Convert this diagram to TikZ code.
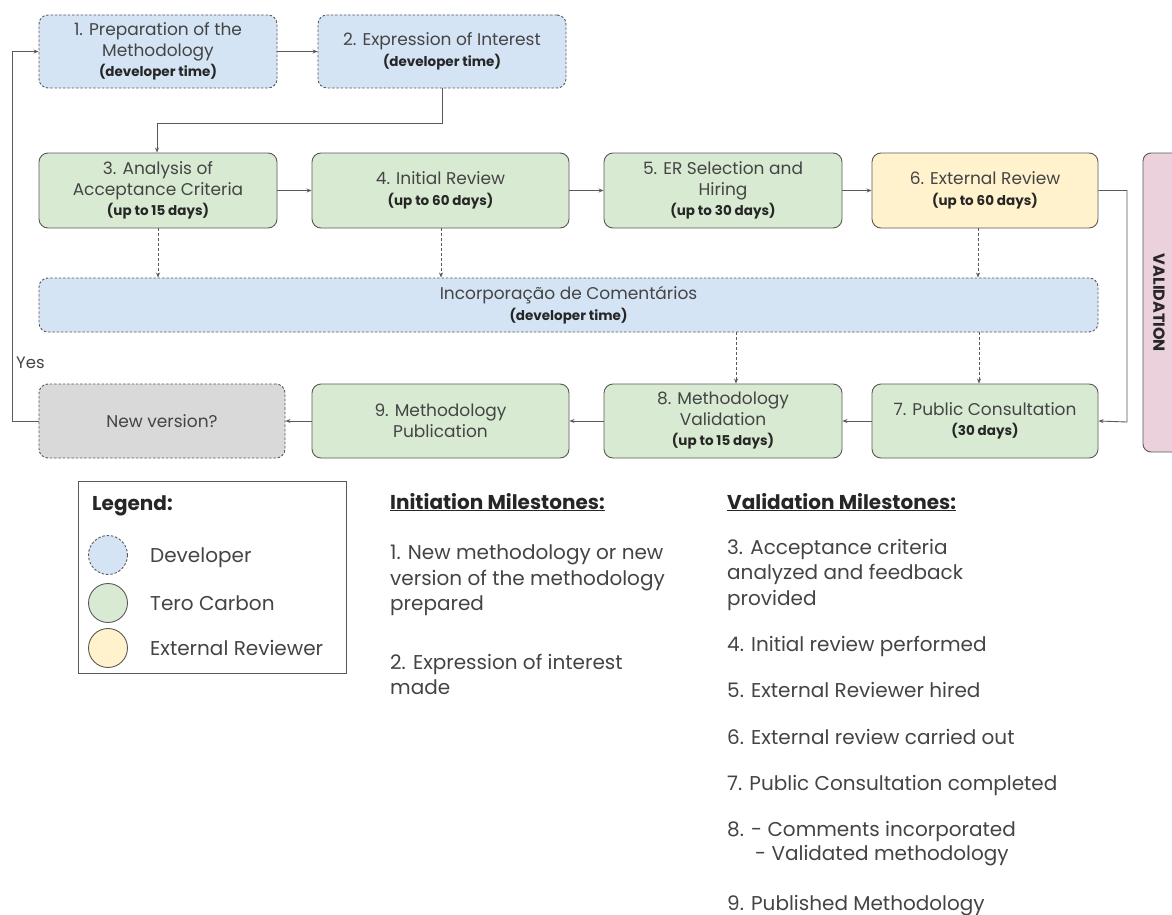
\documentclass[tikz,border=0pt]{standalone}
\usepackage{fontspec}
\setmainfont{Poppins}
\usetikzlibrary{arrows.meta,calc}
\definecolor{devblue}{HTML}{D4E4F5}
\definecolor{terogreen}{HTML}{D9EAD3}
\definecolor{extyellow}{HTML}{FFF2CC}
\definecolor{nvgray}{HTML}{D9D9D9}
\definecolor{valpink}{HTML}{EAD1DC}
\definecolor{linegray}{HTML}{5A5A5A}
\definecolor{textgray}{HTML}{444444}
\newcommand\subbold[1]{{\fontsize{13.5}{16}\selectfont\bfseries\color{black!85}#1}}
\tikzset{
  base/.style={rounded corners=9pt, align=center, inner sep=2pt, text=textgray,
    font=\fontsize{17}{20.5}\selectfont, line width=0.9pt},
  devbox/.style={base, draw=linegray, dash pattern=on 2.5pt off 1.8pt, fill=devblue},
  terobox/.style={base, draw=linegray, fill=terogreen},
  extbox/.style={base, draw=linegray, fill=extyellow},
  nvbox/.style={base, draw=linegray, dash pattern=on 2.5pt off 1.8pt, fill=nvgray},
  conn/.style={draw=linegray, line width=0.9pt, -{Stealth[length=5pt,width=4pt]}},
  dconn/.style={conn, dash pattern=on 3pt off 2pt},
  mtext/.style={anchor=base west, inner sep=0pt, text=textgray, font=\fontsize{20}{24}\selectfont},
  mhead/.style={anchor=base west, inner sep=0pt, text=black!85, font=\fontsize{20}{24}\selectfont\bfseries},
}
\begin{document}
\begin{tikzpicture}[x=1pt,y=-1pt]
\useasboundingbox[fill=white] (0,0) rectangle (1172,915);

% top row
\node[devbox, minimum width=238, minimum height=73] (b1) at (158,51.5)
  {1. Preparation of the\\Methodology\\\subbold{(developer time)}};
\node[devbox, minimum width=248, minimum height=73] (b2) at (442,51.5)
  {2. Expression of Interest\\\subbold{(developer time)}};

% second row
\node[terobox, minimum width=238, minimum height=75] (b3) at (158,190.5)
  {3. Analysis of\\Acceptance Criteria\\\subbold{(up to 15 days)}};
\node[terobox, minimum width=257, minimum height=75] (b4) at (440.5,190.5)
  {4. Initial Review\\\subbold{(up to 60 days)}};
\node[terobox, minimum width=238, minimum height=75] (b5) at (723,190.5)
  {5. ER Selection and\\Hiring\\\subbold{(up to 30 days)}};
\node[extbox, minimum width=226, minimum height=75] (b6) at (985,190.5)
  {6. External Review\\\subbold{(up to 60 days)}};

% incorporation
\node[devbox, minimum width=1059, minimum height=54] (inc) at (568.5,305)
  {Incorporação de Comentários\\\subbold{(developer time)}};

% bottom row
\node[nvbox, minimum width=246, minimum height=74] (nv) at (162,421)
  {New version?};
\node[terobox, minimum width=257, minimum height=74] (b9) at (440.5,421)
  {9. Methodology\\Publication};
\node[terobox, minimum width=238, minimum height=74] (b8) at (723,421)
  {8. Methodology\\Validation\\\subbold{(up to 15 days)}};
\node[terobox, minimum width=226, minimum height=74] (b7) at (985,421)
  {7. Public Consultation\\\subbold{(30 days)}};

% validation band
\begin{scope}
\clip (0,0) rectangle (1172,915);
\draw[draw=linegray, fill=valpink, rounded corners=8pt, line width=0.9pt] (1143,153) rectangle (1195,452);
\end{scope}
\node[rotate=-90, font=\fontsize{16}{18}\selectfont\bfseries, text=black!85] (val) at (1159,303) {VALIDATION};

% solid connectors
\draw[conn] (b1) -- (b2);
\draw[conn] (b2.south) -- (442,123) -- (157,123) -- (b3.north -| 157,0);
\draw[conn] (b3) -- (b4);
\draw[conn] (b4) -- (b5);
\draw[conn] (b5) -- (b6);
\draw[conn] (b6.east) -- (1127,190.5) -- (1127,422) -- (b7.east);
\draw[conn] (b7) -- (b8);
\draw[conn] (b8) -- (b9);
\draw[conn] (b9) -- (nv);
\draw[conn] (nv.west) -- (12,421) -- (12,51.5) -- (b1.west);
\node[anchor=base west, inner sep=0pt, text=textgray, font=\fontsize{16.5}{18}\selectfont] (yes) at (16,368) {Yes};

% dashed connectors
\draw[dconn] (b3.south -| 158,0) -- (inc.north -| 158,0);
\draw[dconn] (b4.south -| 441,0) -- (inc.north -| 441,0);
\draw[dconn] (b6.south -| 978,0) -- (inc.north -| 978,0);
\draw[dconn] (inc.south -| 736,0) -- (b8.north -| 736,0);
\draw[dconn] (inc.south -| 979,0) -- (b7.north -| 979,0);

% legend
\draw[draw=linegray, line width=1pt] (78,481) rectangle (346,673);
\node[anchor=base west, inner sep=0pt, font=\fontsize{20}{24}\selectfont\bfseries, text=black!85] (leg) at (92,510) {Legend:};
\draw[draw=linegray, dash pattern=on 2.5pt off 1.8pt, fill=devblue, line width=0.9pt] (108,555) circle (19.5);
\draw[draw=linegray, fill=terogreen, line width=0.9pt] (108,603) circle (19.5);
\draw[draw=linegray, fill=extyellow, line width=0.9pt] (108,648) circle (19.5);
\node[mtext] (l1) at (150,562) {Developer};
\node[mtext] (l2) at (150,610) {Tero Carbon};
\node[mtext] (l3) at (150,655) {External Reviewer};

% initiation milestones
\node[mhead] (ih) at (390,509) {\underline{Initiation Milestones:}};
\node[mtext] (i1) at (390,559) {1. New methodology or new};
\node[mtext] (i2) at (390,585) {version of the methodology};
\node[mtext] (i3) at (390,610) {prepared};
\node[mtext] (i4) at (390,669) {2. Expression of interest};
\node[mtext] (i5) at (390,694) {made};

% validation milestones
\node[mhead] (vh) at (727,509) {\underline{Validation Milestones:}};
\node[mtext] (v1) at (727,554) {3. Acceptance criteria};
\node[mtext] (v2) at (727,579) {analyzed and feedback};
\node[mtext] (v3) at (727,605) {provided};
\node[mtext] (v4) at (727,651) {4. Initial review performed};
\node[mtext] (v5) at (727,697) {5. External Reviewer hired};
\node[mtext] (v6) at (727,744) {6. External review carried out};
\node[mtext] (v7) at (727,790) {7. Public Consultation completed};
\node[mtext] (v8) at (727,836) {8. - Comments incorporated};
\node[mtext] (v9) at (755,860) {- Validated methodology};
\node[mtext] (v10) at (727,910) {9. Published Methodology};
\end{tikzpicture}
\end{document}
